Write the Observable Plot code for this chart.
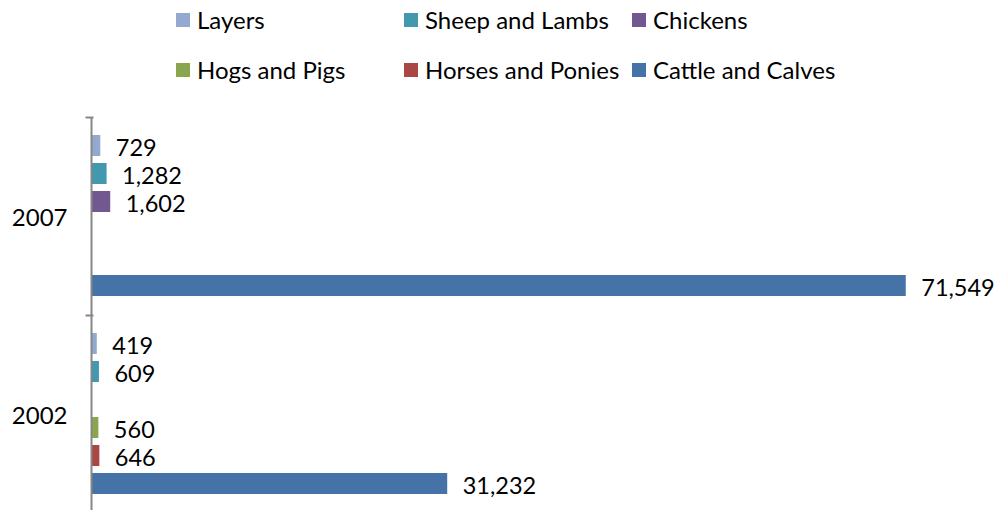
<!DOCTYPE html>
<html>
<head>
<meta charset="utf-8">
<script src="https://cdn.jsdelivr.net/npm/d3@7"></script>
<script src="https://cdn.jsdelivr.net/npm/@observablehq/plot@0.6"></script>
<style>
  html, body { margin: 0; padding: 0; background: #fff; overflow: hidden; width: 998px; height: 510px; }
  body { font-family: Lato, "Open Sans", sans-serif; }
  #legend { height: 95px; box-sizing: border-box; padding: 6px 0 0 176px;
    display: grid; grid-template-columns: 228px 228px auto; grid-auto-rows: 28px; row-gap: 22px; }
  .item { display: flex; align-items: center; font-size: 24px; line-height: 28px; color: #000; white-space: nowrap; }
  .sw { width: 14px; height: 14px; margin-right: 7px; flex: none; }
  #chart svg { display: block; overflow: visible; }
</style>
</head>
<body>
<div id="legend"></div>
<div id="chart"></div>
<script>
const years = ["2007", "2002"];
const categories = ["Layers", "Sheep and Lambs", "Chickens", "Hogs and Pigs", "Horses and Ponies", "Cattle and Calves"];
const values2007 = [729, 1282, 1602, null, null, 71549];
const values2002 = [419, 609, null, 560, 646, 31232];
const colors = ["#93A9CF", "#4198AF", "#71588F", "#89A54E", "#AA4643", "#4572A7"];
const legendOrder = ["Layers", "Sheep and Lambs", "Chickens", "Hogs and Pigs", "Horses and Ponies", "Cattle and Calves"];

const seriesByYear = {"2007": values2007, "2002": values2002};
const rows = [];
for (const yr of years) {
  categories.forEach((c, i) => {
    const v = seriesByYear[yr][i];
    if (v != null) rows.push({year: yr, category: c, value: v});
  });
}

// Legend
const legend = document.getElementById("legend");
for (const name of legendOrder) {
  const it = document.createElement("div");
  it.className = "item";
  const sw = document.createElement("span");
  sw.className = "sw";
  sw.style.background = colors[categories.indexOf(name)];
  it.appendChild(sw);
  it.appendChild(document.createTextNode(name));
  legend.appendChild(it);
}

const W = 998, mL = 92, mR = 53;
const plot = Plot.plot({
  width: W,
  height: 420,
  marginTop: 22,
  marginBottom: 2,
  marginLeft: mL,
  marginRight: mR,
  style: {fontFamily: "Lato, 'Open Sans', sans-serif", fontSize: "24px", color: "#000", background: "#fff", overflow: "visible"},
  x: {domain: [0, 75000], axis: null},
  y: {domain: categories, paddingInner: 0.24, paddingOuter: 0.62, axis: null},
  fy: {domain: years, padding: 0, axis: null},
  color: {domain: categories, range: colors},
  marks: [
    Plot.axisFy({anchor: "left", label: null, tickSize: 0, tickPadding: 25, fontSize: 24, dy: 2}),
    Plot.barX(rows, {x: "value", y: "category", fy: "year", fill: "category"}),
    Plot.text(rows, {x: "value", y: "category", fy: "year", text: d => d3.format(",")(d.value),
      textAnchor: "start", dx: 15, dy: 2, fontSize: 23.5, fill: "#000"}),
    Plot.ruleX([0], {stroke: "#868686", strokeWidth: 2, dx: -1}),
    Plot.frame({anchor: "top", stroke: "#868686", strokeWidth: 2, insetLeft: -6, insetRight: W - mL - mR})
  ]
});
document.getElementById("chart").appendChild(plot);
</script>
</body>
</html>
